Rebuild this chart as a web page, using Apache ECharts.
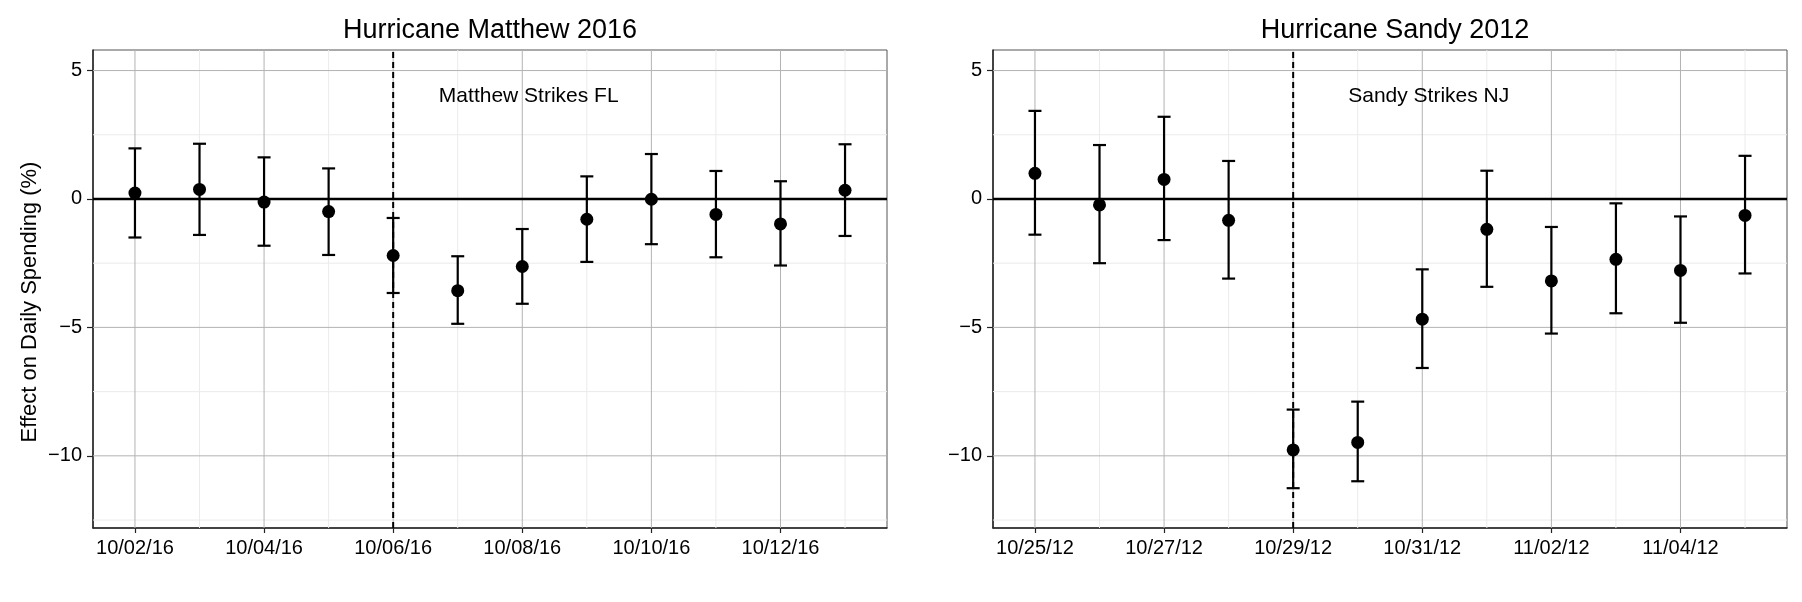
<!DOCTYPE html>
<html>
<head>
<meta charset="utf-8">
<script src="https://cdn.jsdelivr.net/npm/echarts@6/dist/echarts.min.js"></script>
<style>html,body{margin:0;padding:0;background:#fff;}#c{width:1802px;height:602px;}</style>
</head>
<body>
<div id="c"></div>
<script>
// ---- data ----
const matthewDates = ['10/02/16','10/03/16','10/04/16','10/05/16','10/06/16','10/07/16','10/08/16','10/09/16','10/10/16','10/11/16','10/12/16','10/13/16'];
const matthewEst = [0.23, 0.37, -0.12, -0.49, -2.20, -3.57, -2.63, -0.79, -0.01, -0.60, -0.97, 0.34];
const matthewLo  = [-1.50, -1.40, -1.82, -2.18, -3.66, -4.86, -4.08, -2.45, -1.76, -2.27, -2.59, -1.44];
const matthewHi  = [1.97, 2.15, 1.62, 1.19, -0.74, -2.23, -1.17, 0.88, 1.75, 1.09, 0.69, 2.13];

const sandyDates = ['10/25/12','10/26/12','10/27/12','10/28/12','10/29/12','10/30/12','10/31/12','11/01/12','11/02/12','11/03/12','11/04/12','11/05/12'];
const sandyEst = [1.00, -0.23, 0.76, -0.83, -9.77, -9.48, -4.68, -1.18, -3.19, -2.35, -2.78, -0.64];
const sandyLo  = [-1.39, -2.50, -1.60, -3.10, -11.26, -10.99, -6.58, -3.42, -5.24, -4.45, -4.82, -2.90];
const sandyHi  = [3.43, 2.10, 3.20, 1.48, -8.20, -7.89, -2.74, 1.10, -1.09, -0.17, -0.68, 1.68];

const panelTitles = ['Hurricane Matthew 2016', 'Hurricane Sandy 2012'];
const eventLabels = ['Matthew Strikes FL', 'Sandy Strikes NJ'];
const eventDay = 4;            // index of strike date in each panel
const labelPos = [6.1, 4];     // annotation position (day index, value)
const xTickDays = [0, 2, 4, 6, 8, 10];
const xMinorDays = [1, 3, 5, 7, 9, 11];
const yTicks = [-10, -5, 0, 5];
const yMinor = [-12.5, -7.5, -2.5, 2.5];
const yMajorGrid = [-10, -5, 5];
const xRange = [-0.65, 11.65];
const yRange = [-12.81, 5.80];
const yTitle = 'Effect on Daily Spending (%)';

// ---- layout ----
const FONT = '"Liberation Sans", Arial, sans-serif';
const gridTop = 50, gridH = 478, gridW = 794;
const gridLefts = [93, 993];
const titleCenters = [485, 1390];

const panels = [
  {dates: matthewDates, est: matthewEst, lo: matthewLo, hi: matthewHi},
  {dates: sandyDates, est: sandyEst, lo: sandyLo, hi: sandyHi}
];

const grids = [], xAxes = [], yAxes = [], series = [], titles = [];

function lineEl(p1, p2, style) {
  return {type: 'line', shape: {x1: p1[0], y1: p1[1], x2: p2[0], y2: p2[1]}, style: style, silent: true};
}

panels.forEach((p, k) => {
  grids.push({left: gridLefts[k], top: gridTop, width: gridW, height: gridH,
    show: true, borderColor: '#555', borderWidth: 1, backgroundColor: '#fff'});
  xAxes.push({
    type: 'value', gridIndex: k, min: xRange[0], max: xRange[1],
    axisLine: {show: true, onZero: false, lineStyle: {color: '#222', width: 1.5}},
    axisTick: {show: true, customValues: xTickDays, length: 5, lineStyle: {color: '#222', width: 1.2}},
    axisLabel: {customValues: xTickDays, margin: 10, color: '#000', fontSize: 20, fontFamily: FONT,
      formatter: v => p.dates[Math.round(v)] || ''},
    splitLine: {show: false}
  });
  yAxes.push({
    type: 'value', gridIndex: k, min: yRange[0], max: yRange[1],
    axisLine: {show: true, onZero: false, lineStyle: {color: '#222', width: 1.5}},
    axisTick: {show: true, customValues: yTicks, length: 6, lineStyle: {color: '#222', width: 1.2}},
    axisLabel: {customValues: yTicks, margin: 11, color: '#000', fontSize: 20, fontFamily: FONT,
      formatter: v => (v < 0 ? '\u2212' + Math.abs(v) : String(v))},
    splitLine: {show: false}
  });
  titles.push({text: panelTitles[k], left: titleCenters[k], top: 12, textAlign: 'center',
    textStyle: {fontSize: 27, fontWeight: 'normal', color: '#000', fontFamily: FONT}});

  // gridlines (minor + major), vertical and horizontal
  const gridData = [];
  xMinorDays.forEach(v => gridData.push([v, 0, 0]));
  yMinor.forEach(v => gridData.push([v, 1, 0]));
  xTickDays.forEach(v => gridData.push([v, 0, 1]));
  yMajorGrid.forEach(v => gridData.push([v, 1, 1]));
  series.push({
    type: 'custom', xAxisIndex: k, yAxisIndex: k, z: 1, silent: true,
    data: gridData,
    renderItem: (params, api) => {
      const v = api.value(0), horiz = api.value(1), major = api.value(2);
      const style = {stroke: major ? '#b3b3b3' : '#ebebeb', lineWidth: 1};
      if (horiz) return lineEl(api.coord([xRange[0], v]), api.coord([xRange[1], v]), style);
      return lineEl(api.coord([v, yRange[0]]), api.coord([v, yRange[1]]), style);
    }
  });
  // zero line and event dashed line
  series.push({
    type: 'custom', xAxisIndex: k, yAxisIndex: k, z: 2, silent: true,
    data: [[0, 1], [eventDay, 0]],
    renderItem: (params, api) => {
      const v = api.value(0), horiz = api.value(1);
      if (horiz) return lineEl(api.coord([xRange[0], v]), api.coord([xRange[1], v]), {stroke: '#000', lineWidth: 2.5});
      return lineEl(api.coord([v, yRange[0]]), api.coord([v, yRange[1]]), {stroke: '#000', lineWidth: 2, lineDash: [6, 4]});
    }
  });
  // error bars
  series.push({
    type: 'custom', xAxisIndex: k, yAxisIndex: k, z: 3, silent: true,
    data: p.est.map((e, i) => [i, p.lo[i], p.hi[i]]),
    renderItem: (params, api) => {
      const x = api.value(0);
      const top = api.coord([x, api.value(2)]);
      const bot = api.coord([x, api.value(1)]);
      const hw = 6.5, st = {stroke: '#000', lineWidth: 2.2};
      return {type: 'group', children: [
        lineEl(top, bot, st),
        lineEl([top[0] - hw, top[1]], [top[0] + hw, top[1]], st),
        lineEl([bot[0] - hw, bot[1]], [bot[0] + hw, bot[1]], st)
      ]};
    }
  });
  // point estimates
  series.push({
    type: 'scatter', xAxisIndex: k, yAxisIndex: k, z: 4, silent: true,
    symbolSize: 13, itemStyle: {color: '#000', opacity: 1},
    data: p.est.map((e, i) => [i, e])
  });
  // annotation
  series.push({
    type: 'scatter', xAxisIndex: k, yAxisIndex: k, z: 5, silent: true,
    symbolSize: 1, itemStyle: {color: '#fff', opacity: 0},
    data: [labelPos],
    label: {show: true, position: 'inside', formatter: eventLabels[k], opacity: 1,
      fontSize: 21, color: '#000', fontFamily: FONT}
  });
});

const chart = echarts.init(document.getElementById('c'), null, {renderer: 'canvas'});
chart.setOption({
  animation: false,
  backgroundColor: '#fff',
  title: titles,
  grid: grids,
  xAxis: xAxes,
  yAxis: yAxes,
  series: series,
  graphic: [{
    type: 'text', x: 30, y: 302, rotation: Math.PI / 2,
    style: {text: yTitle, fontSize: 22, fontFamily: FONT, fill: '#000', textAlign: 'center', textVerticalAlign: 'middle'}
  }]
});
</script>
</body>
</html>
